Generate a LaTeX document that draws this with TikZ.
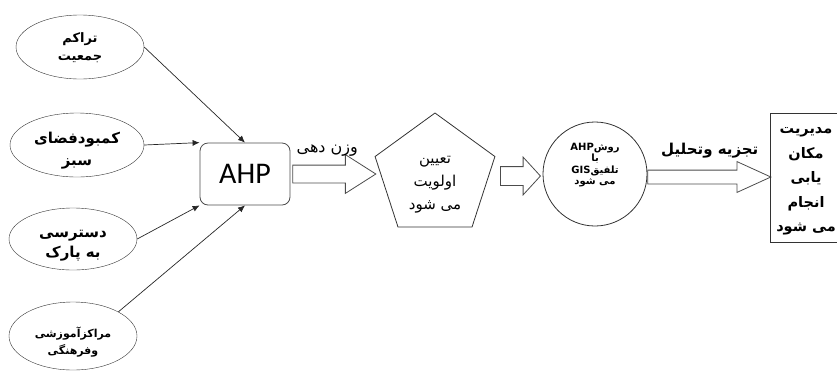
\documentclass[tikz,border=0pt]{standalone}
\usepackage{fontspec}
\setmainfont{Carlito}
\newfontfamily\persfont[Script=Arabic]{DejaVu Sans}
\TeXXeTstate=1
\newcommand\rl[1]{{\persfont\beginR #1\endR}}
\usetikzlibrary
  {
    arrows.meta,      % arrow tips
    positioning,      % place nodes relative to other nodes
    shapes.geometric, % ellipse and pentagon
    shapes.arrows,    % the fat arrows
  }

\tikzset{
  factor/.style={draw=black!80, ellipse, inner sep=0,
    minimum width=128pt, minimum height=64pt},
  txt/.style={align=center, inner sep=0},
  feed/.style={draw=black!85, line width=.7pt, -{Latex[length=7pt,width=6pt]}},
  fat/.style={draw=black!70, line width=.8pt, single arrow, inner xsep=0,
    minimum width=0pt},
}

\begin{document}
\begin{tikzpicture}[x=1pt,y=-1pt]
  \useasboundingbox (0,0) rectangle (837,376);

  % criteria
  \node (e1) [factor, label={[txt, yshift=-1pt,
      font=\fontsize{13}{18}\selectfont\bfseries]center:{\rl{تراکم}\\\rl{جمعیت}}}]
    at (80,47) {};
  \node (e2) [factor, minimum width=134pt, label={[txt, yshift=-6pt,
      font=\fontsize{15}{22}\selectfont\bfseries]center:{\rl{کمبودفضای}\\\rl{سبز}}}]
    at (77,145) {};
  \node (e3) [factor, minimum height=62pt, label={[txt, yshift=-7pt,
      font=\fontsize{15}{20}\selectfont\bfseries]center:{\rl{دسترسی}\\\rl{به پارک}}}]
    at (73,239) {};
  \node (e4) [factor, minimum height=68pt, label={[txt, yshift=-6pt,
      font=\fontsize{11}{17}\selectfont\bfseries]center:{\rl{مراکزآموزشی}\\\rl{وفرهنگی}}}]
    at (73,336) {};

  \node (ahp) [draw=black!70, line width=.8pt, rounded corners=8pt,
    minimum width=90pt, minimum height=62pt, font=\fontsize{30}{32}\selectfont]
    at (245,174) {AHP};

  \draw[feed] (e1.east) -- (ahp.north);
  \draw[feed] (e2.east) -- (ahp.north west);
  \draw[feed] (e3.east) -- (ahp.south west);
  \draw[feed] (e4.north east) -- (ahp.south);

  % steps
  \node (w1) [fat, right=2pt of ahp, inner ysep=8.5pt, minimum height=83pt,
    single arrow head extend=10.5pt, single arrow tip angle=65] {};
  \node (w1l) [above=5pt of w1, font=\fontsize{16}{18}\selectfont]
    {\rl{وزن دهی}};

  \node (pent) [draw=black!80, line width=.8pt, regular polygon,
    regular polygon sides=5, minimum size=126pt, inner sep=0,
    label={[txt, yshift=-9pt, font=\fontsize{15}{23}\selectfont]center:{\rl{تعیین}\\\rl{اولویت}\\\rl{می شود}}}]
    at (435,176) {};

  \node (w2) [fat, right=11pt of pent, inner ysep=9pt, minimum height=40pt,
    single arrow head extend=9.5pt, single arrow tip angle=95] {};

  \node (gis) [draw=black!80, line width=.8pt, circle, minimum size=104pt,
    inner sep=0,
    label={[txt, yshift=9pt, font=\fontsize{10}{11.5}\selectfont\bfseries]center:{\rl{روش\beginL AHP\endL}\\\rl{با}\\\rl{تلفیق\beginL GIS\endL}\\\rl{می شود}}}]
    at (595,174) {};

  \node (w3) [fat, right=0pt of gis, yshift=-3pt, inner ysep=6.5pt,
    minimum height=123pt, single arrow head extend=8.5pt,
    single arrow tip angle=49] {};
  \node (w3l) [above=8pt of w3, xshift=8pt, font=\fontsize{15}{18}\selectfont\bfseries]
    {\rl{تجزیه وتحلیل}};

  \node (mgmt) [draw=black!80, line width=.8pt, minimum width=76pt,
    minimum height=129pt, inner sep=0,
    label={[txt, xshift=-2pt, yshift=-4pt, font=\fontsize{14.5}{24.5}\selectfont\bfseries]center:{\rl{مدیریت}\\\rl{مکان}\\\rl{یابی}\\\rl{انجام}\\\rl{می شود}}}]
    at (808,177.5) {};
\end{tikzpicture}
\end{document}
